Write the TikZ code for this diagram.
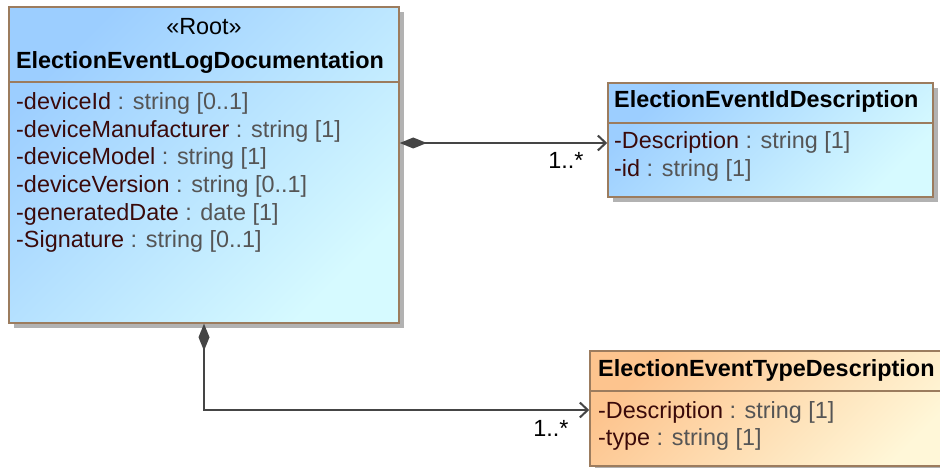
\documentclass[tikz,border=0pt]{standalone}
\usepackage{fontspec}
\setmainfont{Liberation Sans}
\usetikzlibrary{calc}
\usetikzlibrary{arrows.meta}
\usetikzlibrary{shadows}
\definecolor{blueA}{HTML}{9CCEFF}
\definecolor{blueB}{HTML}{D6FAFF}
\definecolor{orangeA}{HTML}{FDC48E}
\definecolor{orangeB}{HTML}{FFF7D8}
\definecolor{frame}{HTML}{9C7C5E}
\definecolor{attname}{HTML}{3A0A0A}
\definecolor{atttype}{HTML}{555555}
\definecolor{wire}{HTML}{454545}
\newcommand{\attr}[2]{{\color{attname}-#1}\ {\color{atttype}: #2}}

\begin{document}
\begin{tikzpicture}[x=1pt,y=-1pt,
  umlclass/.style={draw=frame,line width=1.5pt,rectangle,inner sep=0pt,
    drop shadow={shadow xshift=5pt,shadow yshift=-5pt,fill=black!30,opacity=1}},
  blueclass/.style={umlclass,left color=blueA,right color=blueB,shading angle=45},
  orangeclass/.style={umlclass,left color=orangeA,right color=orangeB,shading angle=45},
  divider/.style={draw=frame,line width=1.5pt},
  txt/.style={inner sep=0pt,anchor=base,font=\fontsize{23.4}{28}\selectfont},
  attrtxt/.style={txt,anchor=base west},
  title/.style={txt,font=\fontsize{23.4}{28}\selectfont\bfseries},
  assoc/.style={draw=wire,line width=2pt,{Diamond[length=27pt,width=11pt]}-{Straight Barb[length=8pt,width=15pt]}}]
\useasboundingbox (0,0) rectangle (940,468);
% classes
\node[blueclass,minimum width=390pt,minimum height=316pt] (logdoc) at (204,165) {};
\node[blueclass,minimum width=325pt,minimum height=114pt] (iddesc) at (770.5,140) {};
\node[orangeclass,minimum width=370pt,minimum height=115pt] (typedesc) at (775,408.5) {};
\draw[divider] (logdoc.west |- 0,82) -- (logdoc.east |- 0,82);
\draw[divider] (iddesc.west |- 0,123) -- (iddesc.east |- 0,123);
\draw[divider] (typedesc.west |- 0,391) -- (typedesc.east |- 0,391);
% headers
\node[txt] (stereo) at (204,34.3) {«Root»};
\node[title] (logname) at (200,69) {ElectionEventLogDocumentation};
\node[title,anchor=base west] (idname) at (614,108) {ElectionEventIdDescription};
\node[title,anchor=base west] (typename) at (598,376.7) {ElectionEventTypeDescription};
% attributes
\foreach \n/\t [count=\i from 0] in {deviceId/string [0..1],deviceManufacturer/string [1],
    deviceModel/string [1],deviceVersion/string [0..1],generatedDate/date [1],Signature/string [0..1]}
  \node[attrtxt] (logattr\i) at (16,109.7+27.6*\i) {\attr{\n}{\t}};
\node[attrtxt] (idattr0) at (614,149) {\attr{Description}{string [1]}};
\node[attrtxt] (idattr1) at (614,176.7) {\attr{id}{string [1]}};
\node[attrtxt] (typeattr0) at (598,418) {\attr{Description}{string [1]}};
\node[attrtxt] (typeattr1) at (598,445) {\attr{type}{string [1]}};
% associations
\draw[assoc] ([yshift=-3pt]logdoc.east |- iddesc.west) -- ([yshift=-3pt]iddesc.west);
\draw[assoc] (logdoc.south) |- ([yshift=-1.5pt]typedesc.west);
\node[txt] (idmult) at (566,168) {1..*};
\node[txt] (typemult) at (551,436.7) {1..*};
\end{tikzpicture}
\end{document}
